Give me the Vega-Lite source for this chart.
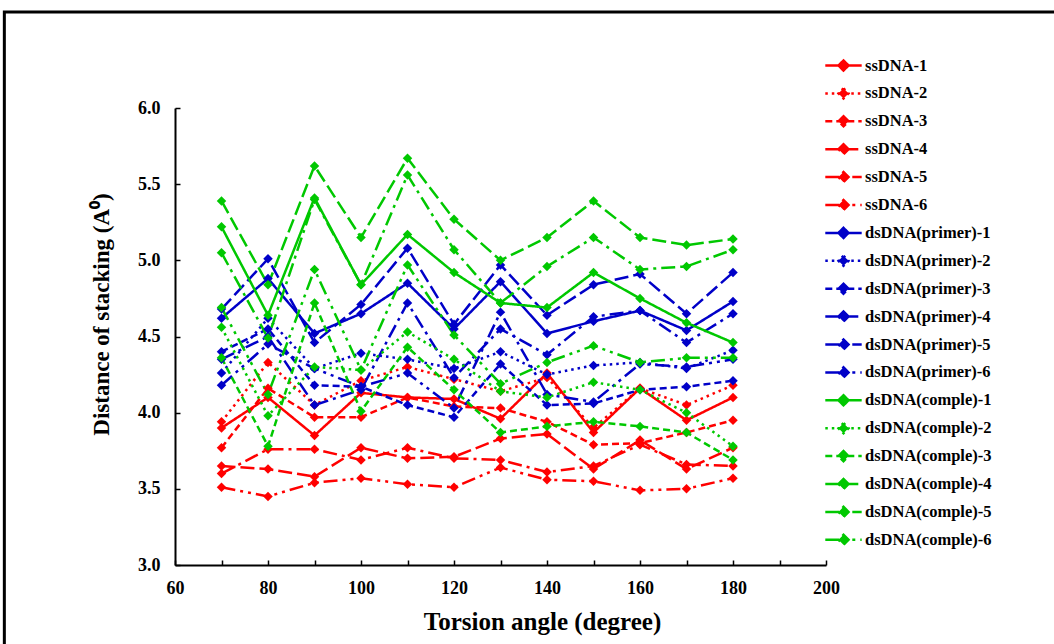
{
  "$schema": "https://vega.github.io/schema/vega-lite/v6.json",
  "width": 651,
  "height": 457,
  "autosize": "none",
  "padding": {"left": 175, "top": 108, "right": 228, "bottom": 79},
  "background": "white",
  "config": {
    "view": {"stroke": null},
    "font": "Liberation Serif",
    "legend": {
      "orient": "none",
      "legendX": 653,
      "legendY": -58,
      "padding": 0,
      "title": null,
      "symbolType": "M-1.3,0L1.3,0M0,-0.36L0.36,0L0,0.36L-0.36,0Z",
      "symbolSize": 784,
      "symbolStrokeWidth": 2.5,
      "labelFont": "Liberation Serif",
      "labelFontWeight": "bold",
      "labelFontSize": 16.5,
      "labelColor": "black",
      "labelOffset": 6,
      "labelLimit": 300,
      "rowPadding": 1.9
    }
  },
  "datasets": {
    "stacking": [
      {"series": "ssDNA-1", "angle": 70, "distance": 3.90}, {"series": "ssDNA-1", "angle": 80, "distance": 4.10}, {"series": "ssDNA-1", "angle": 90, "distance": 3.85}, {"series": "ssDNA-1", "angle": 100, "distance": 4.13}, {"series": "ssDNA-1", "angle": 110, "distance": 4.10}, {"series": "ssDNA-1", "angle": 120, "distance": 4.09}, {"series": "ssDNA-1", "angle": 130, "distance": 3.96}, {"series": "ssDNA-1", "angle": 140, "distance": 4.26}, {"series": "ssDNA-1", "angle": 150, "distance": 3.87}, {"series": "ssDNA-1", "angle": 160, "distance": 4.16}, {"series": "ssDNA-1", "angle": 170, "distance": 3.95}, {"series": "ssDNA-1", "angle": 180, "distance": 4.10},
      {"series": "ssDNA-2", "angle": 70, "distance": 3.94}, {"series": "ssDNA-2", "angle": 80, "distance": 4.33}, {"series": "ssDNA-2", "angle": 90, "distance": 4.05}, {"series": "ssDNA-2", "angle": 100, "distance": 4.21}, {"series": "ssDNA-2", "angle": 110, "distance": 4.30}, {"series": "ssDNA-2", "angle": 120, "distance": 4.22}, {"series": "ssDNA-2", "angle": 130, "distance": 4.14}, {"series": "ssDNA-2", "angle": 140, "distance": 4.23}, {"series": "ssDNA-2", "angle": 150, "distance": 3.90}, {"series": "ssDNA-2", "angle": 160, "distance": 4.16}, {"series": "ssDNA-2", "angle": 170, "distance": 4.05}, {"series": "ssDNA-2", "angle": 180, "distance": 4.18},
      {"series": "ssDNA-3", "angle": 70, "distance": 3.77}, {"series": "ssDNA-3", "angle": 80, "distance": 4.16}, {"series": "ssDNA-3", "angle": 90, "distance": 3.97}, {"series": "ssDNA-3", "angle": 100, "distance": 3.97}, {"series": "ssDNA-3", "angle": 110, "distance": 4.10}, {"series": "ssDNA-3", "angle": 120, "distance": 4.04}, {"series": "ssDNA-3", "angle": 130, "distance": 4.03}, {"series": "ssDNA-3", "angle": 140, "distance": 3.94}, {"series": "ssDNA-3", "angle": 150, "distance": 3.79}, {"series": "ssDNA-3", "angle": 160, "distance": 3.80}, {"series": "ssDNA-3", "angle": 170, "distance": 3.87}, {"series": "ssDNA-3", "angle": 180, "distance": 3.95},
      {"series": "ssDNA-4", "angle": 70, "distance": 3.65}, {"series": "ssDNA-4", "angle": 80, "distance": 3.63}, {"series": "ssDNA-4", "angle": 90, "distance": 3.58}, {"series": "ssDNA-4", "angle": 100, "distance": 3.77}, {"series": "ssDNA-4", "angle": 110, "distance": 3.70}, {"series": "ssDNA-4", "angle": 120, "distance": 3.71}, {"series": "ssDNA-4", "angle": 130, "distance": 3.83}, {"series": "ssDNA-4", "angle": 140, "distance": 3.86}, {"series": "ssDNA-4", "angle": 150, "distance": 3.63}, {"series": "ssDNA-4", "angle": 160, "distance": 3.82}, {"series": "ssDNA-4", "angle": 170, "distance": 3.63}, {"series": "ssDNA-4", "angle": 180, "distance": 3.77},
      {"series": "ssDNA-5", "angle": 70, "distance": 3.60}, {"series": "ssDNA-5", "angle": 80, "distance": 3.76}, {"series": "ssDNA-5", "angle": 90, "distance": 3.76}, {"series": "ssDNA-5", "angle": 100, "distance": 3.69}, {"series": "ssDNA-5", "angle": 110, "distance": 3.77}, {"series": "ssDNA-5", "angle": 120, "distance": 3.70}, {"series": "ssDNA-5", "angle": 130, "distance": 3.69}, {"series": "ssDNA-5", "angle": 140, "distance": 3.61}, {"series": "ssDNA-5", "angle": 150, "distance": 3.65}, {"series": "ssDNA-5", "angle": 160, "distance": 3.79}, {"series": "ssDNA-5", "angle": 170, "distance": 3.66}, {"series": "ssDNA-5", "angle": 180, "distance": 3.65},
      {"series": "ssDNA-6", "angle": 70, "distance": 3.51}, {"series": "ssDNA-6", "angle": 80, "distance": 3.45}, {"series": "ssDNA-6", "angle": 90, "distance": 3.54}, {"series": "ssDNA-6", "angle": 100, "distance": 3.57}, {"series": "ssDNA-6", "angle": 110, "distance": 3.53}, {"series": "ssDNA-6", "angle": 120, "distance": 3.51}, {"series": "ssDNA-6", "angle": 130, "distance": 3.64}, {"series": "ssDNA-6", "angle": 140, "distance": 3.56}, {"series": "ssDNA-6", "angle": 150, "distance": 3.55}, {"series": "ssDNA-6", "angle": 160, "distance": 3.49}, {"series": "ssDNA-6", "angle": 170, "distance": 3.50}, {"series": "ssDNA-6", "angle": 180, "distance": 3.57},
      {"series": "dsDNA(primer)-1", "angle": 70, "distance": 4.62}, {"series": "dsDNA(primer)-1", "angle": 80, "distance": 4.88}, {"series": "dsDNA(primer)-1", "angle": 90, "distance": 4.52}, {"series": "dsDNA(primer)-1", "angle": 100, "distance": 4.65}, {"series": "dsDNA(primer)-1", "angle": 110, "distance": 4.85}, {"series": "dsDNA(primer)-1", "angle": 120, "distance": 4.55}, {"series": "dsDNA(primer)-1", "angle": 130, "distance": 4.86}, {"series": "dsDNA(primer)-1", "angle": 140, "distance": 4.52}, {"series": "dsDNA(primer)-1", "angle": 150, "distance": 4.60}, {"series": "dsDNA(primer)-1", "angle": 160, "distance": 4.67}, {"series": "dsDNA(primer)-1", "angle": 170, "distance": 4.54}, {"series": "dsDNA(primer)-1", "angle": 180, "distance": 4.73},
      {"series": "dsDNA(primer)-2", "angle": 70, "distance": 4.26}, {"series": "dsDNA(primer)-2", "angle": 80, "distance": 4.62}, {"series": "dsDNA(primer)-2", "angle": 90, "distance": 4.29}, {"series": "dsDNA(primer)-2", "angle": 100, "distance": 4.39}, {"series": "dsDNA(primer)-2", "angle": 110, "distance": 4.35}, {"series": "dsDNA(primer)-2", "angle": 120, "distance": 4.29}, {"series": "dsDNA(primer)-2", "angle": 130, "distance": 4.40}, {"series": "dsDNA(primer)-2", "angle": 140, "distance": 4.25}, {"series": "dsDNA(primer)-2", "angle": 150, "distance": 4.31}, {"series": "dsDNA(primer)-2", "angle": 160, "distance": 4.33}, {"series": "dsDNA(primer)-2", "angle": 170, "distance": 4.29}, {"series": "dsDNA(primer)-2", "angle": 180, "distance": 4.41},
      {"series": "dsDNA(primer)-3", "angle": 70, "distance": 4.40}, {"series": "dsDNA(primer)-3", "angle": 80, "distance": 4.55}, {"series": "dsDNA(primer)-3", "angle": 90, "distance": 4.18}, {"series": "dsDNA(primer)-3", "angle": 100, "distance": 4.17}, {"series": "dsDNA(primer)-3", "angle": 110, "distance": 4.05}, {"series": "dsDNA(primer)-3", "angle": 120, "distance": 3.97}, {"series": "dsDNA(primer)-3", "angle": 130, "distance": 4.32}, {"series": "dsDNA(primer)-3", "angle": 140, "distance": 4.05}, {"series": "dsDNA(primer)-3", "angle": 150, "distance": 4.06}, {"series": "dsDNA(primer)-3", "angle": 160, "distance": 4.15}, {"series": "dsDNA(primer)-3", "angle": 170, "distance": 4.17}, {"series": "dsDNA(primer)-3", "angle": 180, "distance": 4.21},
      {"series": "dsDNA(primer)-4", "angle": 70, "distance": 4.68}, {"series": "dsDNA(primer)-4", "angle": 80, "distance": 5.01}, {"series": "dsDNA(primer)-4", "angle": 90, "distance": 4.46}, {"series": "dsDNA(primer)-4", "angle": 100, "distance": 4.71}, {"series": "dsDNA(primer)-4", "angle": 110, "distance": 5.08}, {"series": "dsDNA(primer)-4", "angle": 120, "distance": 4.58}, {"series": "dsDNA(primer)-4", "angle": 130, "distance": 4.97}, {"series": "dsDNA(primer)-4", "angle": 140, "distance": 4.64}, {"series": "dsDNA(primer)-4", "angle": 150, "distance": 4.84}, {"series": "dsDNA(primer)-4", "angle": 160, "distance": 4.91}, {"series": "dsDNA(primer)-4", "angle": 170, "distance": 4.65}, {"series": "dsDNA(primer)-4", "angle": 180, "distance": 4.92},
      {"series": "dsDNA(primer)-5", "angle": 70, "distance": 4.35}, {"series": "dsDNA(primer)-5", "angle": 80, "distance": 4.50}, {"series": "dsDNA(primer)-5", "angle": 90, "distance": 4.05}, {"series": "dsDNA(primer)-5", "angle": 100, "distance": 4.15}, {"series": "dsDNA(primer)-5", "angle": 110, "distance": 4.72}, {"series": "dsDNA(primer)-5", "angle": 120, "distance": 4.23}, {"series": "dsDNA(primer)-5", "angle": 130, "distance": 4.55}, {"series": "dsDNA(primer)-5", "angle": 140, "distance": 4.38}, {"series": "dsDNA(primer)-5", "angle": 150, "distance": 4.63}, {"series": "dsDNA(primer)-5", "angle": 160, "distance": 4.67}, {"series": "dsDNA(primer)-5", "angle": 170, "distance": 4.46}, {"series": "dsDNA(primer)-5", "angle": 180, "distance": 4.65},
      {"series": "dsDNA(primer)-6", "angle": 70, "distance": 4.18}, {"series": "dsDNA(primer)-6", "angle": 80, "distance": 4.45}, {"series": "dsDNA(primer)-6", "angle": 90, "distance": 4.29}, {"series": "dsDNA(primer)-6", "angle": 100, "distance": 4.17}, {"series": "dsDNA(primer)-6", "angle": 110, "distance": 4.26}, {"series": "dsDNA(primer)-6", "angle": 120, "distance": 4.03}, {"series": "dsDNA(primer)-6", "angle": 130, "distance": 4.66}, {"series": "dsDNA(primer)-6", "angle": 140, "distance": 4.12}, {"series": "dsDNA(primer)-6", "angle": 150, "distance": 4.07}, {"series": "dsDNA(primer)-6", "angle": 160, "distance": 4.32}, {"series": "dsDNA(primer)-6", "angle": 170, "distance": 4.30}, {"series": "dsDNA(primer)-6", "angle": 180, "distance": 4.35},
      {"series": "dsDNA(comple)-1", "angle": 70, "distance": 5.22}, {"series": "dsDNA(comple)-1", "angle": 80, "distance": 4.64}, {"series": "dsDNA(comple)-1", "angle": 90, "distance": 5.41}, {"series": "dsDNA(comple)-1", "angle": 100, "distance": 4.84}, {"series": "dsDNA(comple)-1", "angle": 110, "distance": 5.17}, {"series": "dsDNA(comple)-1", "angle": 120, "distance": 4.92}, {"series": "dsDNA(comple)-1", "angle": 130, "distance": 4.72}, {"series": "dsDNA(comple)-1", "angle": 140, "distance": 4.69}, {"series": "dsDNA(comple)-1", "angle": 150, "distance": 4.92}, {"series": "dsDNA(comple)-1", "angle": 160, "distance": 4.75}, {"series": "dsDNA(comple)-1", "angle": 170, "distance": 4.59}, {"series": "dsDNA(comple)-1", "angle": 180, "distance": 4.46},
      {"series": "dsDNA(comple)-2", "angle": 70, "distance": 4.56}, {"series": "dsDNA(comple)-2", "angle": 80, "distance": 3.98}, {"series": "dsDNA(comple)-2", "angle": 90, "distance": 4.30}, {"series": "dsDNA(comple)-2", "angle": 100, "distance": 4.28}, {"series": "dsDNA(comple)-2", "angle": 110, "distance": 4.53}, {"series": "dsDNA(comple)-2", "angle": 120, "distance": 4.35}, {"series": "dsDNA(comple)-2", "angle": 130, "distance": 4.14}, {"series": "dsDNA(comple)-2", "angle": 140, "distance": 4.10}, {"series": "dsDNA(comple)-2", "angle": 150, "distance": 4.20}, {"series": "dsDNA(comple)-2", "angle": 160, "distance": 4.15}, {"series": "dsDNA(comple)-2", "angle": 170, "distance": 4.00}, {"series": "dsDNA(comple)-2", "angle": 180, "distance": 3.78},
      {"series": "dsDNA(comple)-3", "angle": 70, "distance": 4.36}, {"series": "dsDNA(comple)-3", "angle": 80, "distance": 3.78}, {"series": "dsDNA(comple)-3", "angle": 90, "distance": 4.72}, {"series": "dsDNA(comple)-3", "angle": 100, "distance": 4.01}, {"series": "dsDNA(comple)-3", "angle": 110, "distance": 4.43}, {"series": "dsDNA(comple)-3", "angle": 120, "distance": 4.15}, {"series": "dsDNA(comple)-3", "angle": 130, "distance": 3.87}, {"series": "dsDNA(comple)-3", "angle": 140, "distance": 3.91}, {"series": "dsDNA(comple)-3", "angle": 150, "distance": 3.94}, {"series": "dsDNA(comple)-3", "angle": 160, "distance": 3.91}, {"series": "dsDNA(comple)-3", "angle": 170, "distance": 3.87}, {"series": "dsDNA(comple)-3", "angle": 180, "distance": 3.69},
      {"series": "dsDNA(comple)-4", "angle": 70, "distance": 5.39}, {"series": "dsDNA(comple)-4", "angle": 80, "distance": 4.84}, {"series": "dsDNA(comple)-4", "angle": 90, "distance": 5.62}, {"series": "dsDNA(comple)-4", "angle": 100, "distance": 5.15}, {"series": "dsDNA(comple)-4", "angle": 110, "distance": 5.67}, {"series": "dsDNA(comple)-4", "angle": 120, "distance": 5.27}, {"series": "dsDNA(comple)-4", "angle": 130, "distance": 5.00}, {"series": "dsDNA(comple)-4", "angle": 140, "distance": 5.15}, {"series": "dsDNA(comple)-4", "angle": 150, "distance": 5.39}, {"series": "dsDNA(comple)-4", "angle": 160, "distance": 5.15}, {"series": "dsDNA(comple)-4", "angle": 170, "distance": 5.10}, {"series": "dsDNA(comple)-4", "angle": 180, "distance": 5.14},
      {"series": "dsDNA(comple)-5", "angle": 70, "distance": 5.05}, {"series": "dsDNA(comple)-5", "angle": 80, "distance": 4.49}, {"series": "dsDNA(comple)-5", "angle": 90, "distance": 5.40}, {"series": "dsDNA(comple)-5", "angle": 100, "distance": 4.84}, {"series": "dsDNA(comple)-5", "angle": 110, "distance": 5.56}, {"series": "dsDNA(comple)-5", "angle": 120, "distance": 5.07}, {"series": "dsDNA(comple)-5", "angle": 130, "distance": 4.72}, {"series": "dsDNA(comple)-5", "angle": 140, "distance": 4.96}, {"series": "dsDNA(comple)-5", "angle": 150, "distance": 5.15}, {"series": "dsDNA(comple)-5", "angle": 160, "distance": 4.94}, {"series": "dsDNA(comple)-5", "angle": 170, "distance": 4.96}, {"series": "dsDNA(comple)-5", "angle": 180, "distance": 5.07},
      {"series": "dsDNA(comple)-6", "angle": 70, "distance": 4.69}, {"series": "dsDNA(comple)-6", "angle": 80, "distance": 4.12}, {"series": "dsDNA(comple)-6", "angle": 90, "distance": 4.94}, {"series": "dsDNA(comple)-6", "angle": 100, "distance": 4.28}, {"series": "dsDNA(comple)-6", "angle": 110, "distance": 4.97}, {"series": "dsDNA(comple)-6", "angle": 120, "distance": 4.51}, {"series": "dsDNA(comple)-6", "angle": 130, "distance": 4.19}, {"series": "dsDNA(comple)-6", "angle": 140, "distance": 4.33}, {"series": "dsDNA(comple)-6", "angle": 150, "distance": 4.44}, {"series": "dsDNA(comple)-6", "angle": 160, "distance": 4.33}, {"series": "dsDNA(comple)-6", "angle": 170, "distance": 4.36}, {"series": "dsDNA(comple)-6", "angle": 180, "distance": 4.36}
    ]
  },
  "layer": [
    {
      "data": {"values": [{}]},
      "mark": {"type": "rect", "fill": null, "stroke": "black", "strokeWidth": 3, "clip": false},
      "encoding": {
        "x": {"datum": 23.3, "type": "quantitative", "scale": {"domain": [60, 200], "nice": false, "zero": false}},
        "x2": {"datum": 270},
        "y": {"datum": 6.63, "type": "quantitative", "scale": {"domain": [3, 6], "nice": false, "zero": false}},
        "y2": {"datum": 2.0}
      }
    },
    {
      "data": {"name": "stacking"},
      "mark": {"type": "line", "strokeWidth": 2.5},
      "encoding": {
        "x": {
          "field": "angle", "type": "quantitative",
          "scale": {"domain": [60, 200], "nice": false, "zero": false},
          "axis": {
            "values": [60, 70, 80, 90, 100, 110, 120, 130, 140, 150, 160, 170, 180, 190, 200],
            "labelExpr": "datum.value % 20 === 0 ? datum.label : ''",
            "grid": false,
            "domainColor": "black", "domainWidth": 2,
            "tickColor": "black", "tickWidth": 1.5, "tickSize": -5,
            "labelFont": "Liberation Serif", "labelFontWeight": "bold", "labelFontSize": 18, "labelColor": "black",
            "labelPadding": 19, "labelFlush": false, "labelOverlap": false,
            "title": "Torsion angle (degree)",
            "titleFont": "Liberation Serif", "titleFontSize": 25, "titleFontWeight": "bold", "titleColor": "black",
            "titlePadding": 12, "titleX": 367
          }
        },
        "y": {
          "field": "distance", "type": "quantitative",
          "scale": {"domain": [3, 6], "nice": false, "zero": false},
          "axis": {
            "values": [3, 3.25, 3.5, 3.75, 4, 4.25, 4.5, 4.75, 5, 5.25, 5.5, 5.75, 6],
            "labelExpr": "datum.value * 2 % 1 === 0 ? format(datum.value, '.1f') : ''",
            "grid": false,
            "domainColor": "black", "domainWidth": 2,
            "tickColor": "black", "tickWidth": 1.5, "tickSize": -5,
            "labelFont": "Liberation Serif", "labelFontWeight": "bold", "labelFontSize": 18, "labelColor": "black",
            "labelPadding": 20, "labelFlush": false, "labelOverlap": false,
            "title": "Distance of stacking (A⁰)",
            "titleFont": "Liberation Serif", "titleFontSize": 23, "titleFontWeight": "bold", "titleColor": "black",
            "titlePadding": 24, "titleY": 206
          }
        },
        "color": {
          "field": "series", "type": "nominal",
          "scale": {
            "domain": ["ssDNA-1", "ssDNA-2", "ssDNA-3", "ssDNA-4", "ssDNA-5", "ssDNA-6", "dsDNA(primer)-1", "dsDNA(primer)-2", "dsDNA(primer)-3", "dsDNA(primer)-4", "dsDNA(primer)-5", "dsDNA(primer)-6", "dsDNA(comple)-1", "dsDNA(comple)-2", "dsDNA(comple)-3", "dsDNA(comple)-4", "dsDNA(comple)-5", "dsDNA(comple)-6"],
            "range": ["#ff0000", "#ff0000", "#ff0000", "#ff0000", "#ff0000", "#ff0000", "#0000c8", "#0000c8", "#0000c8", "#0000c8", "#0000c8", "#0000c8", "#00c800", "#00c800", "#00c800", "#00c800", "#00c800", "#00c800"]
          },
          "legend": {
            "encode": {"symbols": {"update": {"fill": {"scale": "color", "field": "value"}}}}
          }
        },
        "strokeDash": {
          "field": "series", "type": "nominal",
          "scale": {
            "domain": ["ssDNA-1", "ssDNA-2", "ssDNA-3", "ssDNA-4", "ssDNA-5", "ssDNA-6", "dsDNA(primer)-1", "dsDNA(primer)-2", "dsDNA(primer)-3", "dsDNA(primer)-4", "dsDNA(primer)-5", "dsDNA(primer)-6", "dsDNA(comple)-1", "dsDNA(comple)-2", "dsDNA(comple)-3", "dsDNA(comple)-4", "dsDNA(comple)-5", "dsDNA(comple)-6"],
            "range": [[1, 0], [2.5, 4], [7, 4], [14, 5], [14, 5, 3, 5], [14, 5, 3, 5, 3, 5], [1, 0], [2.5, 4], [7, 4], [14, 5], [14, 5, 3, 5], [14, 5, 3, 5, 3, 5], [1, 0], [2.5, 4], [7, 4], [14, 5], [14, 5, 3, 5], [14, 5, 3, 5, 3, 5]]
          }
        }
      }
    },
    {
      "data": {"name": "stacking"},
      "mark": {"type": "point", "shape": "diamond", "filled": true, "size": 90, "opacity": 1},
      "encoding": {
        "x": {"field": "angle", "type": "quantitative"},
        "y": {"field": "distance", "type": "quantitative"},
        "fill": {
          "field": "series", "type": "nominal",
          "scale": {
            "domain": ["ssDNA-1", "ssDNA-2", "ssDNA-3", "ssDNA-4", "ssDNA-5", "ssDNA-6", "dsDNA(primer)-1", "dsDNA(primer)-2", "dsDNA(primer)-3", "dsDNA(primer)-4", "dsDNA(primer)-5", "dsDNA(primer)-6", "dsDNA(comple)-1", "dsDNA(comple)-2", "dsDNA(comple)-3", "dsDNA(comple)-4", "dsDNA(comple)-5", "dsDNA(comple)-6"],
            "range": ["#ff0000", "#ff0000", "#ff0000", "#ff0000", "#ff0000", "#ff0000", "#0000c8", "#0000c8", "#0000c8", "#0000c8", "#0000c8", "#0000c8", "#00c800", "#00c800", "#00c800", "#00c800", "#00c800", "#00c800"]
          },
          "legend": null
        }
      }
    }
  ]
}
